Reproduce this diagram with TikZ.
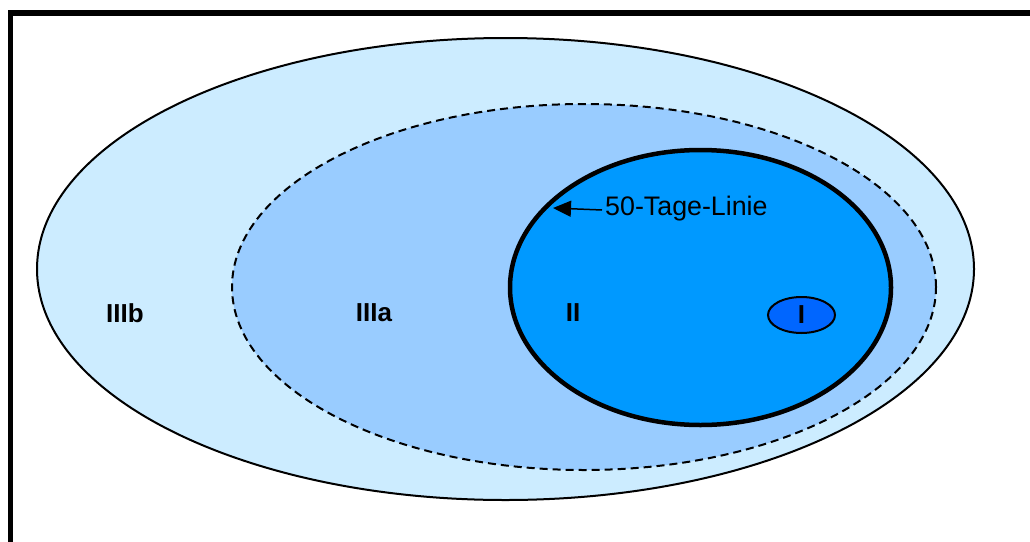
\documentclass[tikz,border=0pt]{standalone}
\usepackage{fontspec}
\setmainfont{Liberation Sans}
\usetikzlibrary{shapes.geometric,arrows.meta}
\definecolor{zoneIIIb}{HTML}{CCECFF}
\definecolor{zoneIIIa}{HTML}{99CCFF}
\definecolor{zoneII}{HTML}{0099FF}
\definecolor{zoneI}{HTML}{0066FF}
\tikzset{
  zone/.style={ellipse, inner sep=0pt, draw=black},
  zonelabel/.style={font=\fontsize{26}{31}\selectfont\bfseries, inner sep=0pt},
  pointer/.style={line width=1.5pt, -{Triangle[length=18pt,width=16pt]}},
}
\begin{document}
\begin{tikzpicture}[x=1pt,y=-1pt]
  \useasboundingbox (0,0) rectangle (1030,541);
  \clip (0,0) rectangle (1030,541);
  % frame, open to the right and bottom
  \draw[line width=5.5pt] (10.5,560) -- (10.5,13) -- (1050,13);

  % nested zones
  \node[zone, fill=zoneIIIb, line width=2pt, minimum width=937pt, minimum height=462pt]
    (z3b) at (505.5,269) {};
  \node[zone, fill=zoneIIIa, line width=2pt, dash pattern=on 8pt off 5pt,
        minimum width=704pt, minimum height=366pt]
    (z3a) at (584,287) {};
  \node[zone, fill=zoneII, line width=4.5pt, minimum width=381pt, minimum height=275pt]
    (z2) at (700.5,287.5) {};
  \node[zone, fill=zoneI, line width=2pt, minimum width=67pt, minimum height=36pt,
        zonelabel] (z1) at (801.5,315) {I};

  % zone labels
  \node[zonelabel] (l3b) at (125,313) {IIIb};
  \node[zonelabel] (l3a) at (374,313) {IIIa};
  \node[zonelabel] (l2) at (573,313) {II};

  % boundary annotation
  \node[font=\fontsize{26.8}{32}\selectfont, inner sep=0pt, anchor=west]
    (lbl) at (605,209) {50-Tage-Linie};
  \coordinate (tip) at (553,208);
  \draw[pointer] (lbl.west) ++(-3pt,-1pt) -- (tip);
\end{tikzpicture}
\end{document}
